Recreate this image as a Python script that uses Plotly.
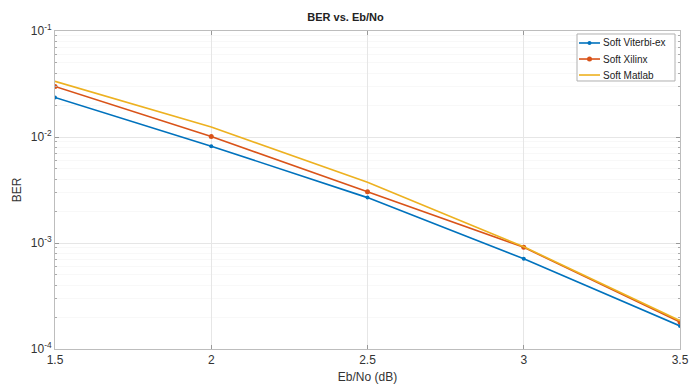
import plotly.graph_objects as go

ebno = [1.5, 2, 2.5, 3, 3.5]
ber_viterbi = [0.0236, 0.0082, 0.00268, 0.00071, 0.000165]
ber_xilinx = [0.0300, 0.0101, 0.00305, 0.00091, 0.000180]
ber_matlab = [0.0335, 0.0124, 0.00375, 0.00092, 0.000185]
names = ["Soft Viterbi-ex", "Soft Xilinx", "Soft Matlab"]
colors = ["#0072BD", "#D95319", "#EDB120"]
marker_sizes = [4, 5, 0]
x_ticks = [1.5, 2, 2.5, 3, 3.5]
x_ticktext = ["1.5", "2", "2.5", "3", "3.5"]
y_ticks = [1e-4, 1e-3, 1e-2, 1e-1]
y_ticktext = ["10<sup>-4</sup>", "10<sup>-3</sup>", "10<sup>-2</sup>", "10<sup>-1</sup>"]

fig = go.Figure()
for ys, nm, c, ms in zip([ber_viterbi, ber_xilinx, ber_matlab], names, colors, marker_sizes):
    fig.add_trace(go.Scatter(x=ebno, y=ys, name=nm, mode="lines+markers" if ms else "lines",
                             line=dict(color=c, width=1.6),
                             marker=dict(symbol="circle", size=ms, color=c)))

# manual legend (MATLAB-like compact box)
shapes = [dict(type="rect", xref="paper", yref="paper", x0=0.8352, x1=0.992, y0=0.8428, y1=0.9906,
               fillcolor="white", line=dict(color="#b0b0b0", width=1), layer="above")]
annotations = []
row_y = [0.9623, 0.9119, 0.8616]
for nm, c, ms, ry in zip(names, colors, marker_sizes, row_y):
    shapes.append(dict(type="line", xref="paper", yref="paper", x0=0.8384, x1=0.872, y0=ry, y1=ry,
                       line=dict(color=c, width=1.6), layer="above"))
    if ms:
        r = ms / 2
        shapes.append(dict(type="circle", xref="paper", yref="paper", xsizemode="pixel", ysizemode="pixel",
                           xanchor=0.8552, yanchor=ry, x0=-r, x1=r, y0=-r, y1=r,
                           fillcolor=c, line=dict(color=c, width=0), layer="above"))
    annotations.append(dict(text=nm, xref="paper", yref="paper", x=0.8736, y=ry, xanchor="left",
                            yanchor="middle", showarrow=False,
                            font=dict(size=10, color="#222222")))

fig.update_layout(
    width=691, height=385,
    margin=dict(l=55, r=11, t=31, b=36, autoexpand=False),
    paper_bgcolor="white", plot_bgcolor="white",
    font=dict(family="Liberation Sans, Arial, sans-serif", color="#333333", size=11),
    title=dict(text="<b>BER vs. Eb/No</b>", x=0.5, xanchor="center", y=0.955, yanchor="middle",
               font=dict(size=11, color="#222222")),
    showlegend=False,
    shapes=shapes, annotations=annotations,
)
fig.update_xaxes(range=[1.5, 3.5], tickvals=x_ticks, ticktext=x_ticktext, automargin=False,
                 showgrid=True, gridcolor="#e6e6e6", gridwidth=1,
                 showline=True, linecolor="#bdbdbd", linewidth=1, mirror="ticks",
                 ticks="inside", ticklen=4, tickcolor="#999999",
                 zeroline=False, tickfont=dict(size=12, color="#333333"),
                 title=dict(text="Eb/No (dB)", standoff=6, font=dict(size=12, color="#333333")))
fig.update_yaxes(type="log", range=[-4, -1], tickvals=y_ticks, ticktext=y_ticktext, automargin=False,
                 showgrid=True, gridcolor="#e6e6e6", gridwidth=1,
                 showline=True, linecolor="#bdbdbd", linewidth=1, mirror="ticks",
                 ticks="inside", ticklen=4, tickcolor="#999999",
                 minor=dict(ticks="inside", ticklen=2, tickcolor="#aaaaaa",
                            showgrid=True, gridcolor="#f8f8f8",
                            tickvals=[m * 10 ** e for e in (-4, -3, -2) for m in range(2, 10)]),
                 zeroline=False, tickfont=dict(size=12, color="#333333"),
                 title=dict(text="BER", standoff=6, font=dict(size=12, color="#333333")))

fig.write_html("out.html", config={"displayModeBar": False},
               post_script="document.body.style.margin='0';")
